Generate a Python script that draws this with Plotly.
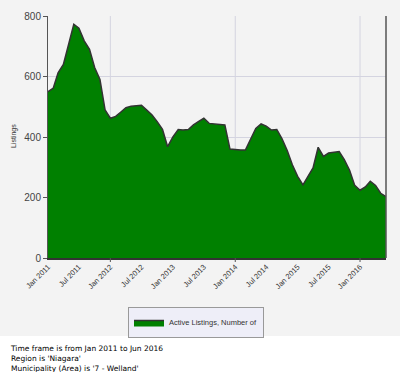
import plotly.graph_objects as go
import pandas as pd

months = pd.date_range("2011-01-01", "2016-06-01", freq="MS")
active_listings = [
    550, 562, 612, 640, 705, 773, 760, 718, 690, 630, 590, 490,   # 2011
    462, 468, 482, 497, 502, 503, 505, 489, 473, 451, 425, 368,   # 2012
    400, 425, 423, 425, 440, 452, 462, 445, 443, 441, 440, 360,   # 2013
    358, 357, 357, 392, 428, 443, 436, 423, 425, 395, 355, 308,   # 2014
    270, 242, 268, 298, 366, 336, 347, 349, 352, 325, 290, 240,   # 2015
    224, 235, 254, 240, 214, 203,                                 # 2016
]
tick_dates = pd.date_range("2011-01-01", "2016-01-01", freq="6MS")
tick_labels = [d.strftime("%b %Y") for d in tick_dates]
grid_dates = ["2012-01-01", "2014-01-01", "2016-01-01"]
y_ticks = [0, 200, 400, 600, 800]
series_name = "Active Listings, Number of"
y_title = "Listings"
footer_lines = [
    "Time frame is from Jan 2011 to Jun 2016",
    "Region is 'Niagara'",
    "Municipality (Area) is '7 - Welland'",
]

fig = go.Figure()
fig.add_trace(go.Scatter(
    x=months, y=active_listings, name=series_name,
    mode="lines", fill="tozeroy", fillcolor="#008000",
    line=dict(color="#333333", width=1.5),
    showlegend=True,
))

W, H = 400, 372
ml, mr, mt, mb = 48, 14, 16, 114
ph = H - mt - mb
pw = W - ml - mr


def px_x(px):
    return (px - ml) / pw


def px_y(py):
    return (H - mb - py) / ph


shapes = []
# light grey chart container behind the plot
shapes.append(dict(type="rect", xref="paper", yref="paper",
                   x0=px_x(0), x1=px_x(W), y0=px_y(336), y1=px_y(0),
                   fillcolor="#f3f3f3", line=dict(width=0), layer="below"))
for g in grid_dates:
    shapes.append(dict(type="line", xref="x", yref="paper", x0=g, x1=g, y0=0, y1=1,
                       line=dict(color="#d4d4e0", width=1), layer="below"))
    shapes.append(dict(type="line", xref="x", yref="paper", x0=g, x1=g, y0=0, y1=-4 / ph,
                       line=dict(color="#555555", width=1)))
# right border
shapes.append(dict(type="line", xref="paper", yref="paper", x0=1, x1=1, y0=0, y1=1,
                   line=dict(color="#555555", width=1.5)))

fig.update_layout(
    width=W, height=H,
    margin=dict(l=ml, r=mr, t=mt, b=mb, autoexpand=False),
    paper_bgcolor="#ffffff",
    plot_bgcolor="#ececf8",
    font=dict(family="Liberation Sans, Arial, sans-serif", color="#333333"),
    shapes=shapes,
    xaxis=dict(
        range=[months[0], months[-1]],
        tickvals=tick_dates, ticktext=tick_labels,
        tickangle=-45, tickfont=dict(size=7.5, color="#333333"),
        showgrid=False, zeroline=False, ticks="",
        showline=True, linecolor="#333333", linewidth=1.5,
        automargin=False,
    ),
    yaxis=dict(
        range=[0, 800], tickvals=y_ticks,
        tickfont=dict(size=10, color="#444444"),
        showgrid=True, gridcolor="#d4d4e0", gridwidth=1,
        zeroline=False, ticks="outside", ticklen=4, tickcolor="#555555",
        showline=True, linecolor="#555555", linewidth=1,
        automargin=False,
    ),
    legend=dict(
        x=px_x(196), xanchor="center", y=px_y(307), yanchor="top",
        orientation="h", itemwidth=30,
        bgcolor="#eeeef8", bordercolor="#999999", borderwidth=1,
        font=dict(size=7.5, color="#333333"),
    ),
    annotations=[
        dict(
            xref="paper", yref="paper",
            x=px_x(8), y=px_y(342),
            xanchor="left", yanchor="top", align="left", showarrow=False,
            text="<br>".join(footer_lines),
            font=dict(family="DejaVu Sans, Verdana, sans-serif", size=7.5, color="#000000"),
        ),
        dict(
            xref="paper", yref="paper",
            x=px_x(14), y=px_y(136),
            xanchor="center", yanchor="middle", showarrow=False, textangle=-90,
            text=y_title,
            font=dict(size=7, color="#333333"),
        ),
    ],
)

fig.write_html("out.html", config={"displayModeBar": False},
               post_script="document.body.style.margin='0';")
